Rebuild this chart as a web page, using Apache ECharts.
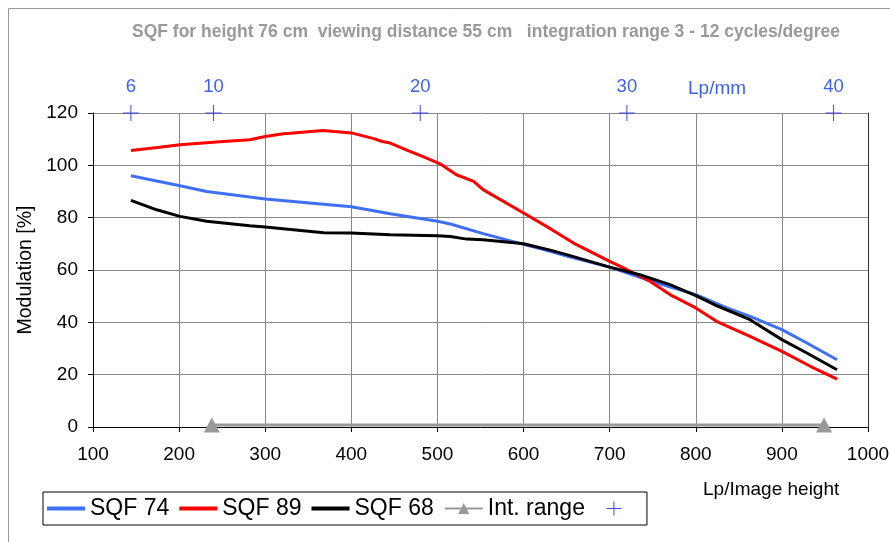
<!DOCTYPE html>
<html>
<head>
<meta charset="utf-8">
<script src="https://cdn.jsdelivr.net/npm/echarts@6/dist/echarts.min.js"></script>
<style>
html, body { margin: 0; padding: 0; background: #fff; }
#chart { width: 890px; height: 542px; }
</style>
</head>
<body>
<div id="chart"></div>
<script>
// curve values (x = Lp/Image height, y = modulation %)
const sqf74X = [144, 201, 232, 282, 300, 400, 445, 500, 515, 553, 600, 631, 651, 700, 755, 800, 836, 863, 900, 929, 964];
const sqf74Y = [96.0, 92.2, 90.0, 87.9, 87.1, 84.2, 81.5, 78.6, 77.6, 73.9, 69.8, 67.1, 65.2, 61.1, 55.0, 50.6, 45.5, 42.3, 37.2, 32.1, 25.7];

const sqf89X = [144, 175, 201, 251, 282, 300, 321, 329, 367, 400, 426, 436, 445, 468, 484, 503, 522, 542, 553, 561, 600, 631, 658, 700, 716, 747, 770, 800, 824, 863, 900, 933, 964];
const sqf89Y = [105.7, 106.8, 107.9, 109.1, 109.8, 111.0, 112.1, 112.3, 113.3, 112.4, 110.2, 109.1, 108.5, 105.3, 103.2, 100.6, 96.4, 93.9, 90.7, 89.2, 81.8, 75.8, 70.3, 63.3, 60.8, 55.6, 50.6, 45.5, 40.4, 34.6, 28.9, 23.2, 18.3];

const sqf68X = [144, 174, 201, 232, 282, 300, 368, 400, 445, 500, 515, 534, 553, 592, 600, 631, 651, 700, 735, 770, 800, 824, 863, 900, 929, 964];
const sqf68Y = [86.6, 83.0, 80.5, 78.6, 76.9, 76.4, 74.2, 74.1, 73.5, 73.1, 72.8, 71.8, 71.6, 70.3, 70.0, 67.6, 65.8, 61.1, 58.2, 54.4, 50.2, 46.4, 41.0, 33.4, 28.3, 21.9];

const intRangeX = [238, 949];
const intRangeY = [0.8, 0.8];

// top scale: Lp/mm (image height about 24 mm)
const lpmmTicks = [6, 10, 20, 30, 40];
const lpmmFactor = 24;

const pairs = (xs, ys) => xs.map((x, i) => [x, ys[i]]);
const font = '"Liberation Sans", Arial, sans-serif';
const plus = 'path://M0,7.5H16V8.5H0Z M7.5,0H8.5V16H7.5Z';
// legend icons: tiny corner dots keep the 38x14 box so the shapes are not stretched
const lineIcon = 'path://M0,0h0.1v0.1h-0.1Z M0,5H38V9H0Z M37.9,13.9h0.1v0.1h-0.1Z';
const plusIcon = 'path://M0,0h0.1v0.1h-0.1Z M11.5,6.5H26.5V7.5H11.5Z M18.5,0H19.5V14H18.5Z M37.9,13.9h0.1v0.1h-0.1Z';

const chart = echarts.init(document.getElementById('chart'));
chart.setOption({
    animation: false,
    title: {
        text: 'SQF for height 76 cm  viewing distance 55 cm   integration range 3 - 12 cycles/degree',
        left: 481, top: 18, textAlign: 'center',
        textStyle: { color: '#999', fontSize: 17.5, fontWeight: 'bold', fontFamily: font }
    },
    graphic: [
        { type: 'rect', left: 6, top: 6, shape: { width: 900, height: 560 }, style: { fill: null, stroke: '#999', lineWidth: 1 }, silent: true, z: -10 },
        { type: 'text', x: 688, y: 89, style: { text: 'Lp/mm', fill: '#3d62f0', font: '19px ' + font, verticalAlign: 'middle' } },
        { type: 'text', x: 703, y: 490, style: { text: 'Lp/Image height', fill: '#000', font: '19px ' + font, verticalAlign: 'middle' } }
    ],
    legend: {
        left: 43, top: 492,
        padding: [5, 14, 5, 4],
        itemGap: 10, itemWidth: 38, itemHeight: 14,
        borderColor: '#000', borderWidth: 1,
        textStyle: { fontSize: 23, fontFamily: font, color: '#000' },
        formatter: name => (name === 'Lp/mm' ? '' : name),
        data: [
            { name: 'SQF 74', icon: lineIcon, itemStyle: { color: '#3f6ff5' } },
            { name: 'SQF 89', icon: lineIcon, itemStyle: { color: '#ff0000' } },
            { name: 'SQF 68', icon: lineIcon, itemStyle: { color: '#000' } },
            { name: 'Int. range' },
            { name: 'Lp/mm', icon: plusIcon, itemStyle: { color: '#1a1aee' } }
        ]
    },
    grid: { left: 93, right: 22, top: 113, bottom: 115, outerBoundsMode: 'none' },
    xAxis: [{
        type: 'value', min: 100, max: 1000, interval: 100,
        axisLine: { lineStyle: { color: '#000' } },
        axisTick: { length: 5, lineStyle: { color: '#000' } },
        axisLabel: { color: '#000', fontSize: 19, fontFamily: font, margin: 18, formatter: v => String(v) },
        splitLine: { lineStyle: { color: '#888' } }
    }, {
        type: 'value', position: 'top',
        min: 100 / lpmmFactor, max: 1000 / lpmmFactor,
        axisLine: { show: false }, axisTick: { show: false }, splitLine: { show: false },
        axisLabel: { customValues: lpmmTicks, color: '#3d62f0', fontSize: 18.5, fontFamily: font, margin: 17 }
    }],
    yAxis: [{
        type: 'value', min: 0, max: 120, interval: 20,
        name: 'Modulation [%]', nameLocation: 'middle', nameGap: 56,
        nameTextStyle: { color: '#000', fontSize: 19.5, fontFamily: font },
        axisLine: { show: true, lineStyle: { color: '#000' } },
        axisTick: { show: true, length: 5, lineStyle: { color: '#000' } },
        axisLabel: { color: '#000', fontSize: 19, fontFamily: font, margin: 15 },
        splitLine: { lineStyle: { color: '#888' } }
    }, {
        type: 'value', min: 0, max: 120, interval: 20, position: 'right',
        axisLine: { show: true, lineStyle: { color: '#333' } },
        axisTick: { show: false }, axisLabel: { show: false }, splitLine: { show: false }
    }],
    series: [
        { name: 'SQF 74', type: 'line', data: pairs(sqf74X, sqf74Y), showSymbol: false, symbol: 'none', lineStyle: { color: '#3f6ff5', width: 3 }, itemStyle: { color: '#3f6ff5' } },
        { name: 'SQF 89', type: 'line', data: pairs(sqf89X, sqf89Y), showSymbol: false, symbol: 'none', lineStyle: { color: '#ff0000', width: 3 }, itemStyle: { color: '#ff0000' } },
        { name: 'SQF 68', type: 'line', data: pairs(sqf68X, sqf68Y), showSymbol: false, symbol: 'none', lineStyle: { color: '#000', width: 3 }, itemStyle: { color: '#000' }, z: 3 },
        { name: 'Int. range', type: 'line', data: pairs(intRangeX, intRangeY), symbol: 'triangle', symbolSize: [16, 15], lineStyle: { color: '#999', width: 3 }, itemStyle: { color: '#999' } },
        { name: 'Lp/mm', type: 'scatter', xAxisIndex: 1, data: lpmmTicks.map(v => [v, 120]), symbol: plus, symbolSize: 16, itemStyle: { color: '#1a1aee' } }
    ]
});
</script>
</body>
</html>
